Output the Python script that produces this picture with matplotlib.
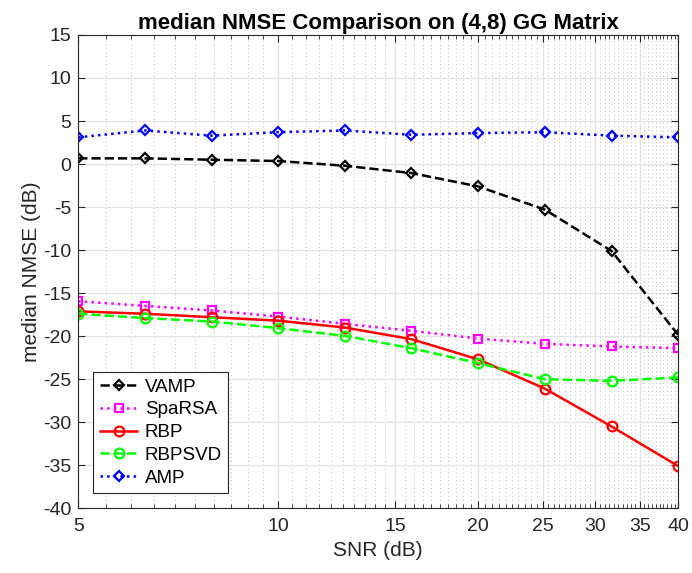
import matplotlib.pyplot as plt
from matplotlib.ticker import FixedLocator, NullFormatter

plt.rcParams['font.family'] = ['Liberation Sans', 'DejaVu Sans']
plt.rcParams['axes.unicode_minus'] = False

# SNR points (dB), log-spaced
snr = [5.0, 6.30, 7.94, 10.0, 12.60, 15.87, 20.0, 25.20, 31.75, 40.0]

vamp = [0.66, 0.66, 0.5, 0.35, -0.2, -1.05, -2.6, -5.3, -10.1, -19.85]
sparsa = [-15.95, -16.48, -17.02, -17.72, -18.57, -19.38, -20.28, -20.9, -21.2, -21.4]
rbp = [-17.12, -17.4, -17.8, -18.2, -19.0, -20.35, -22.7, -26.1, -30.5, -35.1]
rbpsvd = [-17.4, -17.9, -18.3, -19.07, -19.97, -21.4, -23.14, -25.0, -25.2, -24.8]
amp = [3.1, 3.9, 3.3, 3.7, 3.9, 3.4, 3.6, 3.7, 3.3, 3.1]

xticks = [5, 10, 15, 20, 25, 30, 35, 40]
yticks = list(range(-40, 16, 5))


def main():
    fig = plt.figure(figsize=(6.92, 5.73), dpi=100)
    ax = fig.add_axes([0.113, 0.113, 0.867, 0.826])

    style = dict(linewidth=1.8, markerfacecolor='none', markeredgewidth=1.6)
    ax.plot(snr, vamp, '--', color='black', marker='D', markersize=5.5,
            label='VAMP', **style)
    ax.plot(snr, sparsa, ':', color='#ff00ff', marker='s', markersize=6,
            label='SpaRSA', **style)
    ax.plot(snr, rbp, '-', color='#ff0000', marker='o', markersize=7,
            label='RBP', **style)
    ax.plot(snr, rbpsvd, '--', color='#00ff00', marker='o', markersize=7,
            label='RBPSVD', **style)
    ax.plot(snr, amp, ':', color='#0000ff', marker='D', markersize=5.5,
            label='AMP', **style)

    ax.set_xscale('log')
    ax.set_xlim(5, 40)
    ax.set_ylim(-40, 15)
    ax.xaxis.set_major_locator(FixedLocator(xticks))
    ax.xaxis.set_major_formatter(plt.FixedFormatter([str(t) for t in xticks]))
    ax.xaxis.set_minor_locator(FixedLocator([m / 2 for m in range(10, 81)]))
    ax.xaxis.set_minor_formatter(NullFormatter())
    ax.set_yticks(yticks)

    ax.grid(True, which='major', color='#e3e3e3', linewidth=0.9, linestyle='-')
    ax.grid(True, which='minor', axis='x', color='#bdbdbd', linewidth=0.7,
            linestyle=(0, (1, 3)))
    ax.set_axisbelow(True)

    ax.tick_params(which='both', direction='in', top=True, right=True,
                   colors='#262626', labelsize=14)
    ax.tick_params(which='major', length=5, width=0.8)
    ax.tick_params(which='minor', length=3, width=0.6)
    ax.tick_params(axis='x', pad=7)
    ax.tick_params(axis='y', pad=5)
    for s in ax.spines.values():
        s.set_color('#262626')
        s.set_linewidth(0.8)

    ax.set_xlabel('SNR (dB)', fontsize=15, color='#262626', labelpad=4)
    ax.set_ylabel('median NMSE (dB)', fontsize=15, color='#262626', labelpad=1)
    ax.set_title('median NMSE Comparison on (4,8) GG Matrix',
                 fontsize=16, fontweight='bold', pad=4)

    leg = ax.legend(loc='lower left', fontsize=13.5, handlelength=2.0,
                    borderaxespad=0.8, fancybox=False, framealpha=1,
                    edgecolor='#262626', borderpad=0.35, labelspacing=0.3,
                    handletextpad=0.4)
    leg.get_frame().set_linewidth(0.8)

    fig.savefig('out.png', dpi=100)


if __name__ == '__main__':
    main()
